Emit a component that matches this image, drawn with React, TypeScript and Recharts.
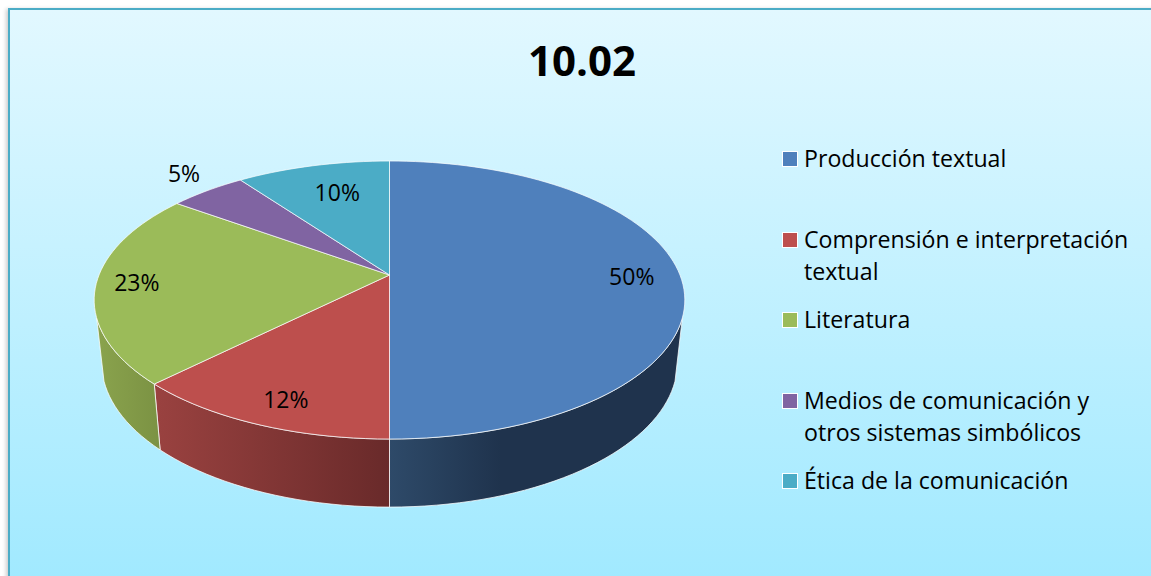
import { Cell, Legend, Pie, PieChart } from 'recharts';

const names = [
  'Producción textual',
  'Comprensión e interpretación textual',
  'Literatura',
  'Medios de comunicación y otros sistemas simbólicos',
  'Ética de la comunicación',
];
const shares = [50, 12.49, 22.51, 5, 10];
const colors = ['#4f80bc', '#bd4f4d', '#9bbb59', '#8064a2', '#4bacc6'];

const chartData = names.map((name, i) => ({ name, value: shares[i] }));

// wall shading, left to right, for the three slices that show a side
const wallStops: Record<number, [number, string][]> = {
  0: [[0, '#2e4a69'], [0.38, '#1f334d'], [1, '#1f334d']],
  1: [[0, '#9a4240'], [1, '#692a2a']],
  2: [[0, '#8aa34d'], [1, '#7b9243']],
};

// label placement: fraction of the radius, plus a small nudge
const labelRadius = [0.834, 0.861, 0.865, 1.25, 0.73];
const labelNudgeX = [0, 8, 1, 16, 6];
const labelNudgeY = [0, -2, -3, 0, -1];

const FONT = '"Open Sans", sans-serif';
const CX = 389.5;
const CY = 275;
const RX = 290.5;
const RY = 134.5;
const TILT = 0.18; // perspective strength of the disc
const WALL_FROM = 107.6; // where the side becomes visible, degrees clockwise from top
const WALL_TO = 252.4;

// angle in degrees clockwise from 12 o'clock -> point on the tilted disc
function project(deg: number, r = 1) {
  const a = (deg * Math.PI) / 180;
  const u = Math.sin(a) * r;
  const v = -Math.cos(a) * r;
  const d = 1 - TILT * v;
  return { x: (RX * u) / d, y: (RY * v) / d };
}

function rimPoint(deg: number) {
  const p = project(deg);
  return [CX + p.x, CY + p.y];
}

function floorPoint(deg: number) {
  const p = project(deg);
  return [CX + 0.975 * p.x, CY + 61.5 + 1.04 * p.y];
}

function sweep(from: number, to: number, at: (deg: number) => number[]) {
  const n = Math.max(2, Math.ceil(Math.abs(to - from) / 2));
  const pts = [];
  for (let i = 0; i <= n; i++) pts.push(at(from + ((to - from) * i) / n));
  return pts;
}

const toPath = (pts: number[][]) =>
  pts.map((p, i) => `${i ? 'L' : 'M'}${p[0].toFixed(2)},${p[1].toFixed(2)}`).join(' ');

function DiscSlice(props: any) {
  const index = chartData.findIndex((d) => d.name === props.name);
  const start = 90 - props.startAngle;
  const end = 90 - props.endAngle;
  const from = Math.max(start, WALL_FROM);
  const to = Math.min(end, WALL_TO);
  const top = `M${CX},${CY} ${toPath(sweep(start, end, rimPoint)).replace('M', 'L')} Z`;
  const stops = wallStops[index];
  return (
    <g>
      {stops && to > from && (
        <>
          <defs>
            <linearGradient id={`wall${index}`} x1="0" y1="0" x2="1" y2="0">
              {stops.map(([o, c]) => (
                <stop key={o} offset={o} stopColor={c} />
              ))}
            </linearGradient>
          </defs>
          <path
            d={`${toPath(sweep(from, to, rimPoint))} ${toPath(sweep(to, from, floorPoint)).replace('M', 'L')} Z`}
            fill={`url(#wall${index})`}
            stroke="#ffffff"
            strokeOpacity={0.75}
            strokeWidth={1}
          />
        </>
      )}
      <path d={top} fill={colors[index]} stroke="#ffffff" strokeOpacity={0.7} strokeWidth={1} />
    </g>
  );
}

function sliceLabel(props: any) {
  const i = props.index;
  const p = project(90 - props.midAngle, labelRadius[i]);
  return (
    <text
      x={CX + p.x + labelNudgeX[i]}
      y={CY + p.y + 1 + labelNudgeY[i]}
      textAnchor="middle"
      dominantBaseline="central"
      fontFamily={FONT}
      fontSize={23}
      fill="#000000"
    >
      {`${Math.round(shares[i])}%`}
    </text>
  );
}

function LegendList(props: any) {
  return (
    <div style={{ fontFamily: FONT, fontSize: 23.15, lineHeight: '32px', color: '#000' }}>
      {props.payload.map((entry: any, i: number) => (
        <div key={entry.value} style={{ display: 'flex', height: 80.5, alignItems: 'flex-start' }}>
          <span
            style={{
              width: 14,
              height: 14,
              flex: 'none',
              marginTop: 9,
              marginRight: 6,
              background: colors[i],
              border: '1px solid #fff',
            }}
          />
          <span style={{ width: 340 }}>{entry.value}</span>
        </div>
      ))}
    </div>
  );
}

export default function App() {
  return (
    <div style={{ position: 'absolute', left: 0, top: 0, width: 1151, height: 576, overflow: 'hidden', background: '#fff' }}>
      <div
        style={{
          position: 'absolute',
          left: 8,
          top: 8,
          width: 1160,
          height: 590,
          boxSizing: 'border-box',
          border: '2px solid #4bacc6',
          background: 'linear-gradient(#e2f8ff, #9fe9ff)',
          boxShadow: '-2px 1px 4px rgba(0,0,0,0.2)',
        }}
      />
      <div
        style={{
          position: 'absolute',
          left: 0,
          width: 1164,
          top: 31,
          textAlign: 'center',
          fontFamily: FONT,
          fontWeight: 700,
          fontSize: 42,
          lineHeight: '58px',
          color: '#000',
        }}
      >
        10.02
      </div>
      <div style={{ position: 'absolute', left: 0, top: 0 }}>
        <PieChart width={1151} height={576} margin={{ top: 0, right: 0, bottom: 0, left: 0 }}>
          <Pie
            data={chartData}
            dataKey="value"
            nameKey="name"
            cx={CX}
            cy={CY}
            outerRadius={RX}
            startAngle={90}
            endAngle={-270}
            paddingAngle={0}
            stroke="none"
            shape={DiscSlice}
            label={sliceLabel}
            labelLine={false}
            isAnimationActive={false}
          >
            {chartData.map((d, i) => (
              <Cell key={d.name} fill={colors[i]} />
            ))}
          </Pie>
          <Legend
            layout="vertical"
            align="right"
            verticalAlign="top"
            itemSorter={null}
            content={LegendList}
            wrapperStyle={{ left: 782, top: 142, width: 365 }}
          />
        </PieChart>
      </div>
    </div>
  );
}
